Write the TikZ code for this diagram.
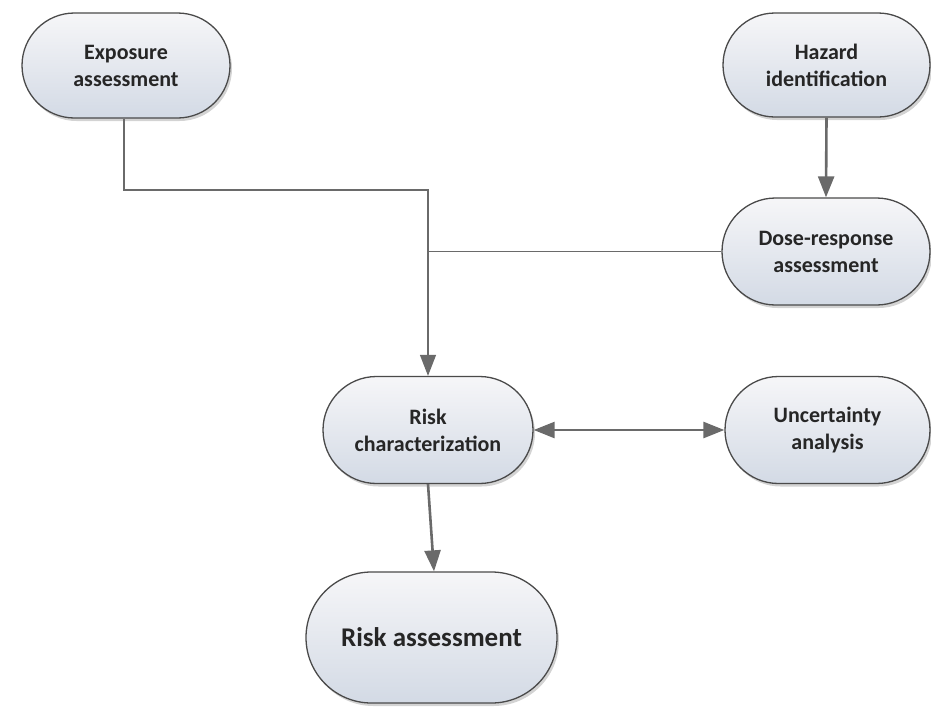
\documentclass[tikz,border=0pt]{standalone}
\usepackage{fontspec}
\setmainfont{Carlito}
\usetikzlibrary{arrows.meta,shadows,shapes.misc}
\definecolor{boxbot}{HTML}{D3DAE5}
\definecolor{boxtop}{HTML}{F6F6F8}
\definecolor{boxline}{HTML}{4A4A4A}
\definecolor{conngray}{HTML}{6A6A6A}
\tikzset{
 pill/.style={rounded rectangle, draw=boxline, line width=1.3pt, top color=boxtop, bottom color=boxbot,
   drop shadow={shadow xshift=2pt, shadow yshift=-3pt, opacity=0.35},
   font=\bfseries\fontsize{22}{27}\selectfont, align=center, text=black!85, inner sep=0pt},
 conn/.style={draw=conngray, line width=1.3pt},
 arr/.style={draw=conngray, line width=2.6pt, -{Triangle[length=21pt,width=16pt]}},
}
\begin{document}
\begin{tikzpicture}[x=1pt,y=-1pt]
\useasboundingbox (0,0) rectangle (931,707);
\node[pill, minimum width=208pt, minimum height=105pt] (ea) at (126,65.5) {Exposure\\assessment};
\node[pill, minimum width=207pt, minimum height=104pt] (hi) at (826.5,65) {Hazard\\identification};
\node[pill, minimum width=208pt, minimum height=107pt] (dr) at (826,251.5) {Dose-response\\assessment};
\node[pill, minimum width=210pt, minimum height=107pt] (rc) at (428,430) {Risk\\characterization};
\node[pill, minimum width=205pt, minimum height=107pt] (ua) at (827.5,430) {Uncertainty\\analysis};
\node[pill, minimum width=251pt, minimum height=131pt, font=\bfseries\fontsize{27}{32}\selectfont] (ra) at (431.5,637.5) {Risk assessment};
\coordinate (j1) at (124,190);
\coordinate (j2) at (428,190);
\draw[conn] (dr.west) -- (dr.west -| j2);
\draw[conn, -{Triangle[length=21pt,width=16pt]}] (j1 |- ea.south) -- (j1) -- (j2) -- (rc.north);
\draw[arr] (hi.south) -- (dr.north);
\draw[arr, {Triangle[length=21pt,width=16pt]}-{Triangle[length=21pt,width=16pt]}] (rc.east) -- (ua.west);
\draw[arr] (rc.south) -- ([xshift=2.5pt]ra.north);
\end{tikzpicture}
\end{document}
